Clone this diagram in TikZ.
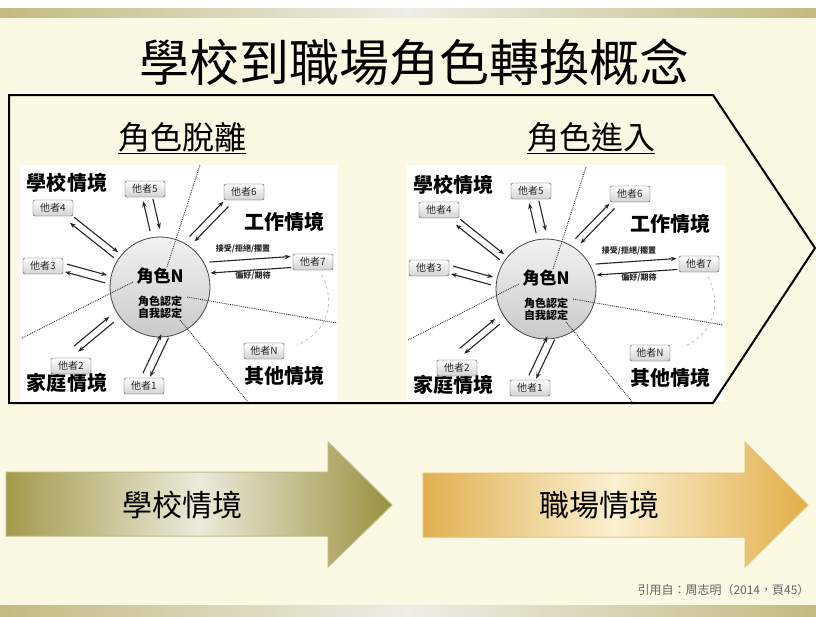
\documentclass[tikz,border=0pt]{standalone}
\usepackage{fontspec}
\setmainfont{Noto Sans CJK TC}
\usetikzlibrary{calc,arrows.meta}
\definecolor{cream}{HTML}{FBF9E3}
\definecolor{bandedge}{HTML}{C4BA80}
\definecolor{bandmid}{HTML}{EEEDE6}
\definecolor{oliveL}{HTML}{A39A4C}
\definecolor{oliveR}{HTML}{9A9040}
\definecolor{oliveM}{HTML}{ECEADB}
\definecolor{goldL}{HTML}{E0B050}
\definecolor{goldR}{HTML}{E2AE48}
\definecolor{goldM}{HTML}{FBF0D2}
\tikzset{
  other/.style={draw=gray!55!black, rounded corners=2pt, top color=white, bottom color=gray!35,
    minimum width=40pt, minimum height=16pt, inner sep=1pt, font=\fontsize{10}{11}\selectfont, text=gray!30!black},
  rolecircle/.style={circle, minimum size=100pt, draw=gray!55!black, line width=0.8pt, top color=gray!10, bottom color=gray!42},
  scene/.style={font=\fontsize{20}{22}\selectfont\bfseries, text=black},
  arr/.style={-{Stealth[length=6pt,width=4.5pt]}, line width=1.1pt, black!85},
  dotl/.style={densely dotted, line width=0.9pt, gray!40!black},
  small/.style={font=\fontsize{8}{9}\selectfont\bfseries, text=black!85},
  heading/.style={font=\fontsize{32}{36}\selectfont, text=black},
}
\newcommand\pairarr[3]{%
  \draw[arr] ($(#1)!#3!90:(#2)$) -- ($(#2)!#3!-90:(#1)$);
  \draw[arr] ($(#2)!#3!90:(#1)$) -- ($(#1)!#3!-90:(#2)$);
}
\newcommand\roleDiag{%
  \node[rolecircle] (c) at (0,0) {};
  \draw[dotl] (7,-20) -- (40,-122);
  \draw[dotl] (-27,-5) -- (-138,51);
  \draw[dotl] (27,10) -- (177,36);
  \draw[dotl] (20,33) -- (88,115);
  \draw[gray!55, dashed, line width=0.7pt] (162,-12) .. controls (176,15) and (168,45) .. (137,58);
  \node[font=\fontsize{17}{19}\selectfont\bfseries] (cn) at (0,-11) {角色N};
  \node[font=\fontsize{11}{12}\selectfont\bfseries] (c1) at (0,14) {角色認定};
  \node[font=\fontsize{11}{12}\selectfont\bfseries] (c2) at (0,26) {自我認定};
  \node[scene] (s1) at (-93,-104) {學校情境};
  \node[scene] (s2) at (124,-65) {工作情境};
  \node[scene] (s3) at (-93,96) {家庭情境};
  \node[scene] (s4) at (124,89) {其他情境};
  \node[other] (o5) at (-15,-98) {他者5};
  \node[other] (o6) at (84,-95) {他者6};
  \node[other] (o4) at (-107,-79) {他者4};
  \node[other] (o3) at (-117,-21) {他者3};
  \node[other] (o7) at (153,-25) {他者7};
  \node[other] (o2) at (-89,79) {他者2};
  \node[other] (o1) at (-16,99) {他者1};
  \node[other] (oN) at (104,64) {他者N};
  \node[small] (l1) at (83,-38) {接受/拒絕/擱置};
  \node[small] (l2) at (93,-11) {偏好/期待};
  \coordinate (p5) at (-5,-57); \coordinate (q5) at (-12,-87);
  \coordinate (p6) at (32,-48); \coordinate (q6) at (66,-83);
  \coordinate (p4) at (-44,-32); \coordinate (q4) at (-88,-67);
  \coordinate (p3) at (-54,-8); \coordinate (q3) at (-94,-19);
  \coordinate (p7) at (50,-19.5); \coordinate (q7) at (131,-25);
  \coordinate (p2) at (-48.5,32.5); \coordinate (q2) at (-84,62);
  \coordinate (p1) at (5,49); \coordinate (q1) at (-13.5,88);
  \pairarr{p5}{q5}{5pt}
  \pairarr{p6}{q6}{3.5pt}
  \pairarr{p4}{q4}{3.5pt}
  \pairarr{p3}{q3}{4pt}
  \pairarr{p7}{q7}{5.5pt}
  \pairarr{p2}{q2}{3.5pt}
  \pairarr{p1}{q1}{4pt}
}
\begin{document}
\begin{tikzpicture}[x=1pt,y=-1pt]
\useasboundingbox (0,0) rectangle (816,616);
\fill[white] (0,0) rectangle (816,616);
\fill[cream] (0,17) rectangle (816,605);
\shade[left color=bandedge, right color=bandedge, middle color=bandmid] (0,8) rectangle (816,17);
\shade[left color=bandedge, right color=bandedge, middle color=bandmid] (0,605) rectangle (816,616);
% title
\node[font=\fontsize{50}{56}\selectfont, text=black] (title) at (414,62) {學校到職場角色轉換概念};
% panels
\fill[white] (20,165) rectangle (337,401);
\fill[white] (407,165) rectangle (725,401);
\begin{scope}[shift={(160,287)}, name prefix=L-]
  \roleDiag
\end{scope}
\begin{scope}[shift={(546,289)}, name prefix=R-]
  \roleDiag
\end{scope}
\node[heading] (h1) at (182,138) {\underline{角色脫離}};
\node[heading] (h2) at (591,138) {\underline{角色進入}};
% pentagon frame
\draw[line width=2pt, black, line join=miter] (9,95) -- (713,95) -- (815,248) -- (713,403) -- (9,403) -- cycle;
% big arrows
\shade[left color=oliveL, right color=oliveR, middle color=oliveM, draw=oliveL!70!white, line width=1pt]
  (6,472) -- (328,472) -- (328,442) -- (392,505) -- (328,567) -- (328,536) -- (6,536) -- cycle;
\shade[left color=goldL, right color=goldR, middle color=goldM, draw=goldL!80!white, line width=1pt]
  (423,473) -- (745,473) -- (745,442) -- (808,505) -- (745,567) -- (745,537) -- (423,537) -- cycle;
\node[font=\fontsize{30}{34}\selectfont, text=black] (a1) at (182,505) {學校情境};
\node[font=\fontsize{30}{34}\selectfont, text=black] (a2) at (599,505) {職場情境};
\node[anchor=east, font=\fontsize{12}{14}\selectfont, text=gray!80!black] (cite) at (813,590) {引用自：周志明（2014，頁45）};
\end{tikzpicture}
\end{document}
